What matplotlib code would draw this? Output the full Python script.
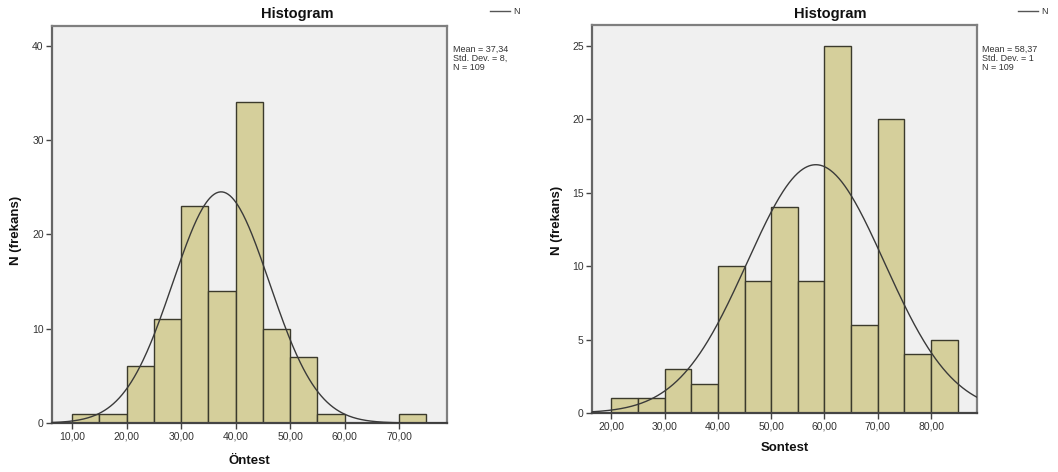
import numpy as np
import matplotlib
matplotlib.use("Agg")
import matplotlib.pyplot as plt

plt.rcParams['font.family'] = ['Liberation Sans', 'DejaVu Sans']

# ---- data ----
bin_width = 5
pre_bin_starts = [10, 15, 20, 25, 30, 35, 40, 45, 50, 55, 60, 65, 70]
pre_counts = [1, 1, 6, 11, 23, 14, 34, 10, 7, 1, 0, 0, 1]
pre_mean, pre_sd, pre_n = 37.34, 8.87, 109

post_bin_starts = [20, 25, 30, 35, 40, 45, 50, 55, 60, 65, 70, 75, 80]
post_counts = [1, 1, 3, 2, 10, 9, 14, 9, 25, 6, 20, 4, 5]
post_mean, post_sd, post_n = 58.37, 12.87, 109

pre_xticks = [10, 20, 30, 40, 50, 60, 70]
post_xticks = [20, 30, 40, 50, 60, 70, 80]
pre_yticks = [0, 10, 20, 30, 40]
post_yticks = [0, 5, 10, 15, 20, 25]

W, H = 1058, 472
fig = plt.figure(figsize=(W / 100, H / 100), dpi=100)
fig.patch.set_facecolor('white')

BAR = '#d5cf9b'
EDGE = '#3b3a2c'
SPINE = '#7f7f7f'
TXT = '#333333'


def px(x, y):
    return x / W, 1 - y / H


def panel(rect, starts, counts, mean, sd, n, xlim, ylim, xticks, yticks,
          xlabel, title_x, ylabel_x, ylabel_y, xlabel_y, stats_x, stats_lines, leg_x):
    l, t, r, b = rect
    ax = fig.add_axes([l / W, 1 - b / H, (r - l) / W, (b - t) / H])
    ax.set_facecolor('#f0f0f0')
    ax.bar(starts, counts, width=bin_width, align='edge', color=BAR,
           edgecolor=EDGE, linewidth=1.0, zorder=2)
    xs = np.linspace(xlim[0], xlim[1], 400)
    ys = n * bin_width * np.exp(-0.5 * ((xs - mean) / sd) ** 2) / (sd * np.sqrt(2 * np.pi))
    ax.plot(xs, ys, color='#3a3a3a', linewidth=1.0, zorder=3)
    ax.set_xlim(*xlim)
    ax.set_ylim(*ylim)
    ax.set_xticks(xticks)
    ax.set_xticklabels([f"{v},00" for v in xticks])
    ax.set_yticks(yticks)
    ax.set_yticklabels([str(v) for v in yticks])
    ax.tick_params(axis='both', direction='out', length=4, width=1.0,
                   color='#444444', labelsize=7.5, labelcolor=TXT, pad=2)
    for s in ax.spines.values():
        s.set_color(SPINE)
        s.set_linewidth(1.6)
    ax.spines['bottom'].set_color('#444444')
    ax.spines['left'].set_color('#666666')
    fig.text(*px(title_x, 14), 'Histogram', ha='center', va='center',
             fontsize=10.5, fontweight='bold', color='#111111')
    fig.text(*px(ylabel_x, ylabel_y), 'N (frekans)', rotation=90, ha='center',
             va='center', fontsize=9.5, fontweight='bold', color='#111111')
    fig.text(*px((l + r) / 2, xlabel_y), xlabel, ha='center', va='center',
             fontsize=9.5, fontweight='bold', color='#111111')
    fig.text(*px(stats_x, 45), "\n".join(stats_lines), ha='left', va='top',
             fontsize=6.5, color=TXT, linespacing=1.0)
    # legend fragment
    x0, y0 = px(leg_x, 11)
    x1, _ = px(leg_x + 20, 11)
    fig.add_artist(plt.Line2D([x0, x1], [y0, y0], color='#555555', linewidth=1.0))
    fig.text(*px(leg_x + 23, 11), 'N', ha='left', va='center', fontsize=6.5, color=TXT)
    return ax


panel((52, 26, 447, 423), pre_bin_starts, pre_counts, pre_mean, pre_sd, pre_n,
      (6.3, 78.8), (0, 42.1), pre_xticks, pre_yticks, 'Öntest',
      title_x=297, ylabel_x=16, ylabel_y=230, xlabel_y=461, stats_x=453,
      stats_lines=['Mean = 37,34', 'Std. Dev. = 8,', 'N = 109'], leg_x=490)

panel((592, 25, 977, 413), post_bin_starts, post_counts, post_mean, post_sd, post_n,
      (16.4, 88.6), (0, 26.4), post_xticks, post_yticks, 'Sontest',
      title_x=830, ylabel_x=557, ylabel_y=220, xlabel_y=448, stats_x=982,
      stats_lines=['Mean = 58,37', 'Std. Dev. = 1', 'N = 109'], leg_x=1018)

fig.savefig('out.png', dpi=100, facecolor='white')
